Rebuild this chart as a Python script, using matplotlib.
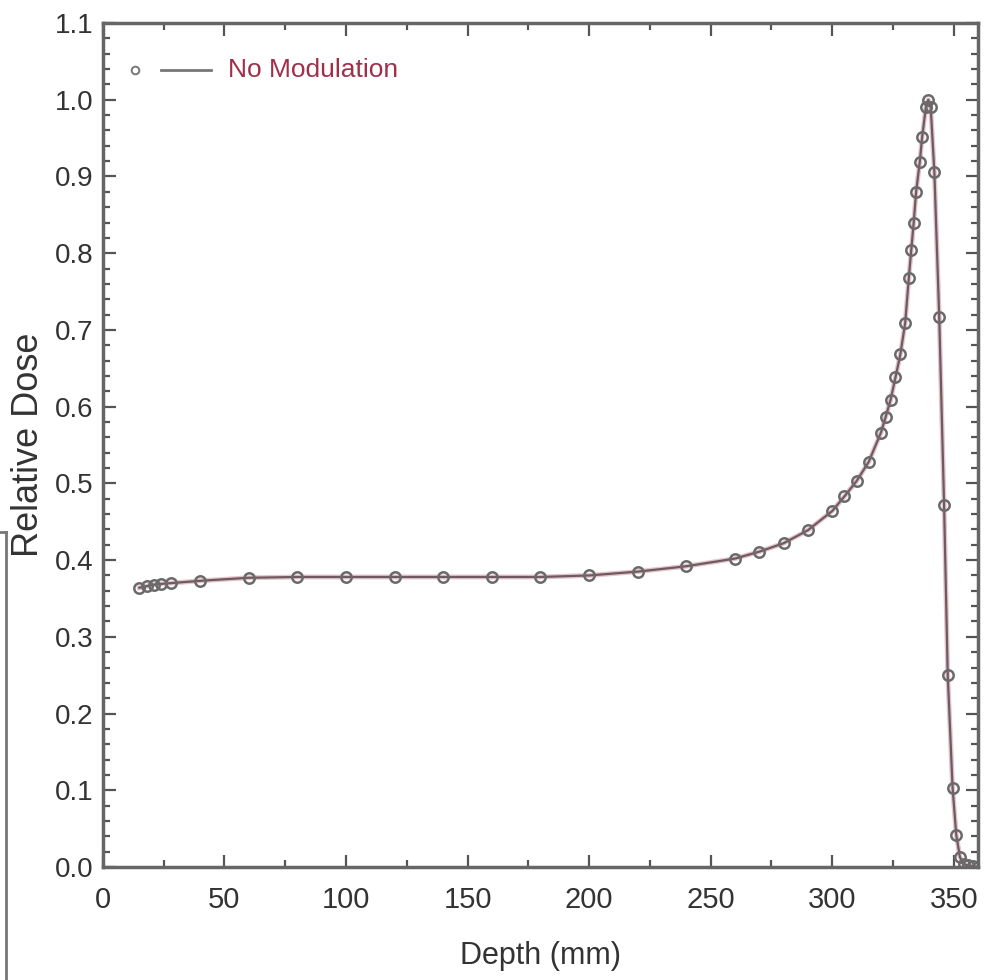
import matplotlib
matplotlib.use("Agg")
import matplotlib.pyplot as plt
from matplotlib.lines import Line2D
from matplotlib.ticker import MultipleLocator

plt.rcParams['font.family'] = ['Liberation Sans Narrow', 'Liberation Sans', 'DejaVu Sans']

# depth-dose curve, no modulation
depth_mm = [15, 18, 21, 24, 28, 40, 60, 80, 100, 120, 140, 160, 180, 200,
            220, 240, 260, 270, 280, 290, 300, 305, 310, 315, 320, 322, 324,
            326, 328, 330, 331.5, 332.5, 333.5, 334.5, 336, 337, 338.5, 339.5,
            340.5, 342, 344, 346, 347.5, 349.5, 351, 352.5, 354, 356, 358, 360]
rel_dose = [0.364, 0.366, 0.368, 0.369, 0.370, 0.373, 0.377, 0.378, 0.378,
            0.378, 0.378, 0.378, 0.378, 0.380, 0.385, 0.392, 0.402, 0.411,
            0.422, 0.439, 0.464, 0.483, 0.503, 0.528, 0.566, 0.587, 0.609,
            0.638, 0.668, 0.709, 0.768, 0.804, 0.840, 0.880, 0.919, 0.952,
            0.990, 1.000, 0.990, 0.906, 0.717, 0.472, 0.250, 0.103, 0.042,
            0.013, 0.004, 0.002, 0.001, 0.000]

line_col = '#6e5a60'
text_col = '#333333'

fig = plt.figure(figsize=(9.89, 9.80), dpi=100)
ax = fig.add_axes([0.104, 0.1153, 0.885, 0.8612])

ax.plot(depth_mm, rel_dose, color='#c98a96', lw=3.5, alpha=0.5)
ax.plot(depth_mm, rel_dose, color=line_col, lw=1.6, marker='o', ms=7.5,
        mfc='none', mec='#6a6a6a', mew=1.8)

ax.set_xlim(0, 360)
ax.set_ylim(0, 1.1)
ax.xaxis.set_major_locator(MultipleLocator(50))
ax.xaxis.set_minor_locator(MultipleLocator(25))
ax.yaxis.set_major_locator(MultipleLocator(0.1))
ax.yaxis.set_minor_locator(MultipleLocator(0.02))
ax.yaxis.set_major_formatter(plt.FuncFormatter(lambda v, p: f"{v:.1f}"))

ax.tick_params(which='both', direction='in', top=True, right=True,
               color='#555555', labelsize=20, labelcolor=text_col)
ax.tick_params(axis='x', pad=14, labelsize=21)
ax.tick_params(axis='y', pad=7)
ax.tick_params(which='major', length=9, width=1.6)
ax.tick_params(which='minor', length=5, width=1.6)
for s in ax.spines.values():
    s.set_color('#666666')
    s.set_linewidth(2.5)

ax.set_xlabel('Depth (mm)', fontsize=22, color=text_col)
ax.set_ylabel('Relative Dose', fontsize=26, color=text_col)
ax.xaxis.set_label_coords(0.5, -0.088)
ax.yaxis.set_label_coords(-0.065, 0.5)

# legend key: open marker, line sample, then label
ax.plot([0.037], [0.9445], transform=ax.transAxes, marker='o', ms=5.5,
        mfc='none', mec='#777777', mew=1.4, ls='none')
ax.plot([0.067, 0.124], [0.9445, 0.9445], transform=ax.transAxes,
        color='#777777', lw=2)
ax.text(0.143, 0.9445, 'No Modulation', transform=ax.transAxes,
        fontsize=19, color='#a0304a', va='center', ha='left')

# stray frame edge on the left of the figure
fig.add_artist(Line2D([0.0065, 0.0065], [0.0, 1 - 532 / 980],
                      transform=fig.transFigure, color='#777777', lw=2))
fig.add_artist(Line2D([0.0, 0.0065], [1 - 532 / 980, 1 - 532 / 980],
                      transform=fig.transFigure, color='#777777', lw=2))

fig.savefig('out.png', dpi=100)
